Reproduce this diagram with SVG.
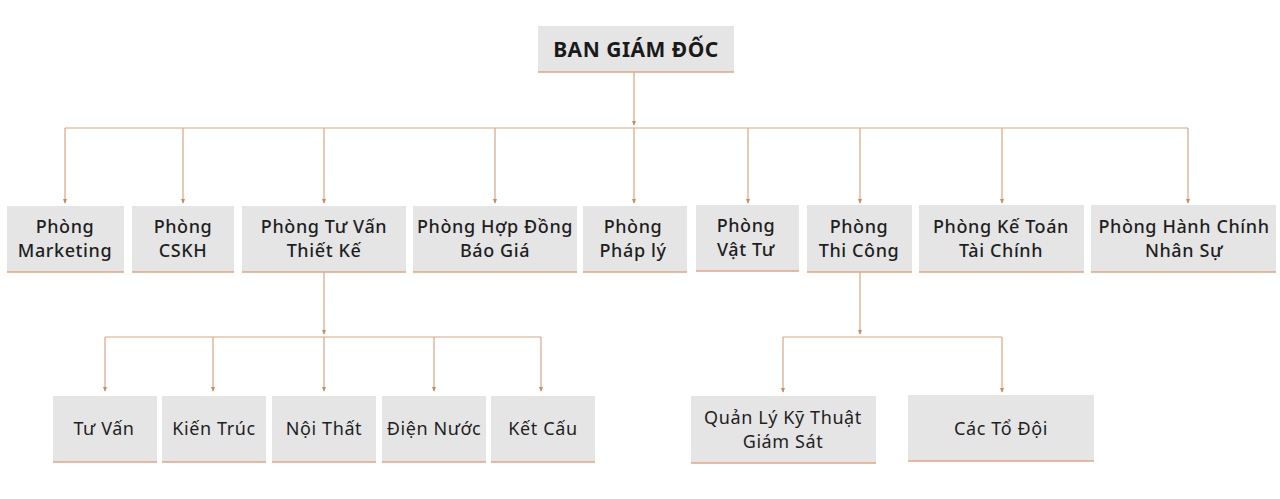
<svg xmlns="http://www.w3.org/2000/svg" width="1280" height="499" viewBox="0 0 1280 499">
<defs>
<marker id="arr" viewBox="0 0 6 6" refX="5" refY="3" markerWidth="4" markerHeight="4" orient="auto">
<path d="M0,0.5 L6,3 L0,5.5 z" fill="#c98b62"/>
</marker>
<style>
.box{fill:#e5e5e5;}
.bl{stroke:#e6a57c;stroke-width:1.6;fill:none;}
.t{font-family:"Noto Sans","Liberation Sans",sans-serif;font-size:18px;font-weight:500;fill:#1f1f1f;text-anchor:middle;letter-spacing:0.6px;}
.t2{font-family:"Noto Sans","Liberation Sans",sans-serif;font-size:18px;font-weight:400;fill:#1f1f1f;text-anchor:middle;letter-spacing:0.6px;}
.title{font-family:"Noto Sans","Liberation Sans",sans-serif;font-size:21px;font-weight:700;fill:#1a1a1a;text-anchor:middle;letter-spacing:0.5px;}
.c{stroke:#d9a682;stroke-width:1.2;fill:none;}
.a{marker-end:url(#arr);}
</style>
</defs>
<rect width="1280" height="499" fill="#ffffff"/>
<g id="connectors">
<path class="c a" d="M634,72 V125"/>
<path class="c" d="M65,128 H1188"/>
<path class="c a" d="M65,128 V203"/>
<path class="c a" d="M183,128 V203"/>
<path class="c a" d="M324,128 V203"/>
<path class="c a" d="M495,128 V203"/>
<path class="c a" d="M634,128 V203"/>
<path class="c a" d="M748,128 V203"/>
<path class="c a" d="M860,128 V203"/>
<path class="c a" d="M1002,128 V203"/>
<path class="c a" d="M1188,128 V203"/>
<path class="c a" d="M324,272 V334"/>
<path class="c" d="M105,337 H541"/>
<path class="c a" d="M105,337 V391"/>
<path class="c a" d="M213,337 V391"/>
<path class="c a" d="M324,337 V391"/>
<path class="c a" d="M434,337 V391"/>
<path class="c a" d="M541,337 V391"/>
<path class="c a" d="M860,272 V334"/>
<path class="c" d="M783,337 H1002"/>
<path class="c a" d="M783,337 V392"/>
<path class="c a" d="M1002,337 V392"/>
</g>
<g id="ban-giam-doc">
<rect class="box" x="538" y="26" width="196" height="46"/>
<line class="bl" x1="538" y1="72" x2="734" y2="72"/>
<text class="title" x="636" y="57">BAN GIÁM ĐỐC</text>
</g>
<g id="marketing">
<rect class="box" x="7" y="206" width="117" height="66"/>
<line class="bl" x1="7" y1="272" x2="124" y2="272"/>
<text class="t" x="65" y="233">Phòng</text>
<text class="t" x="65" y="257">Marketing</text>
</g>
<g id="cskh">
<rect class="box" x="132" y="206" width="102" height="66"/>
<line class="bl" x1="132" y1="272" x2="234" y2="272"/>
<text class="t" x="183" y="233">Phòng</text>
<text class="t" x="183" y="257">CSKH</text>
</g>
<g id="tu-van-thiet-ke">
<rect class="box" x="242" y="206" width="164" height="66"/>
<line class="bl" x1="242" y1="272" x2="406" y2="272"/>
<text class="t" x="324" y="233">Phòng Tư Vấn</text>
<text class="t" x="324" y="257">Thiết Kế</text>
</g>
<g id="hop-dong">
<rect class="box" x="413" y="206" width="164" height="66"/>
<line class="bl" x1="413" y1="272" x2="577" y2="272"/>
<text class="t" x="495" y="233">Phòng Hợp Đồng</text>
<text class="t" x="495" y="257">Báo Giá</text>
</g>
<g id="phap-ly">
<rect class="box" x="583" y="206" width="104" height="66"/>
<line class="bl" x1="583" y1="272" x2="687" y2="272"/>
<text class="t" x="633" y="233">Phòng</text>
<text class="t" x="633" y="257">Pháp lý</text>
</g>
<g id="vat-tu">
<rect class="box" x="696" y="205" width="103" height="66"/>
<line class="bl" x1="696" y1="271" x2="799" y2="271"/>
<text class="t" x="746" y="232">Phòng</text>
<text class="t" x="746" y="256">Vật Tư</text>
</g>
<g id="thi-cong">
<rect class="box" x="807" y="205" width="105" height="67"/>
<line class="bl" x1="807" y1="272" x2="912" y2="272"/>
<text class="t" x="859" y="233">Phòng</text>
<text class="t" x="859" y="257">Thi Công</text>
</g>
<g id="ke-toan">
<rect class="box" x="919" y="205" width="165" height="67"/>
<line class="bl" x1="919" y1="272" x2="1084" y2="272"/>
<text class="t" x="1001" y="233">Phòng Kế Toán</text>
<text class="t" x="1001" y="257">Tài Chính</text>
</g>
<g id="hanh-chinh">
<rect class="box" x="1091" y="205" width="185" height="67"/>
<line class="bl" x1="1091" y1="272" x2="1276" y2="272"/>
<text class="t" x="1184" y="233">Phòng Hành Chính</text>
<text class="t" x="1184" y="257">Nhân Sự</text>
</g>
<g id="tu-van">
<rect class="box" x="53" y="396" width="104" height="66"/>
<line class="bl" x1="53" y1="462" x2="157" y2="462"/>
<text class="t2" x="104" y="435">Tư Vấn</text>
</g>
<g id="kien-truc">
<rect class="box" x="162" y="396" width="104" height="66"/>
<line class="bl" x1="162" y1="462" x2="266" y2="462"/>
<text class="t2" x="214" y="435">Kiến Trúc</text>
</g>
<g id="noi-that">
<rect class="box" x="272" y="396" width="104" height="66"/>
<line class="bl" x1="272" y1="462" x2="376" y2="462"/>
<text class="t2" x="324" y="435">Nội Thất</text>
</g>
<g id="dien-nuoc">
<rect class="box" x="382" y="396" width="104" height="66"/>
<line class="bl" x1="382" y1="462" x2="486" y2="462"/>
<text class="t2" x="434" y="435">Điện Nước</text>
</g>
<g id="ket-cau">
<rect class="box" x="491" y="396" width="104" height="66"/>
<line class="bl" x1="491" y1="462" x2="595" y2="462"/>
<text class="t2" x="543" y="435">Kết Cấu</text>
</g>
<g id="quan-ly">
<rect class="box" x="691" y="396" width="185" height="67"/>
<line class="bl" x1="691" y1="463" x2="876" y2="463"/>
<text class="t2" x="783" y="424">Quản Lý Kỹ Thuật</text>
<text class="t2" x="783" y="448">Giám Sát</text>
</g>
<g id="to-doi">
<rect class="box" x="908" y="395" width="186" height="66"/>
<line class="bl" x1="908" y1="461" x2="1094" y2="461"/>
<text class="t2" x="1001" y="435">Các Tổ Đội</text>
</g>
</svg>
